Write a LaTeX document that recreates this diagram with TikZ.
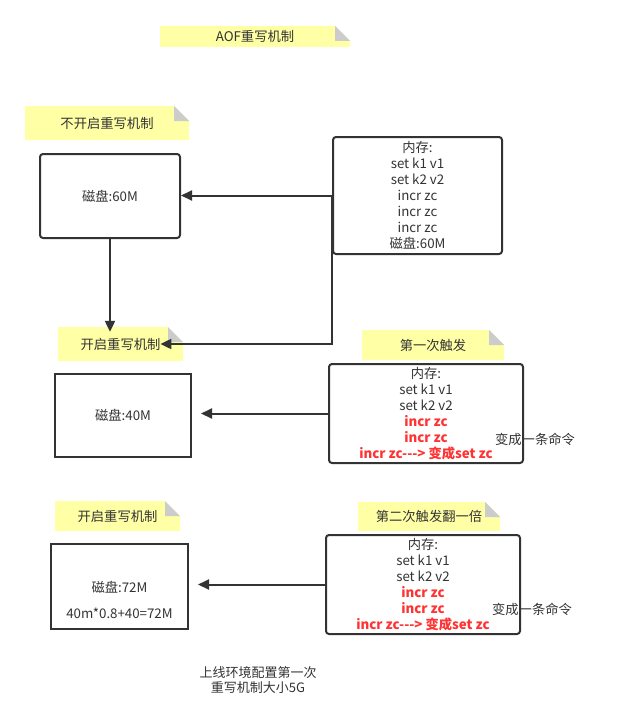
\documentclass[tikz,border=0pt]{standalone}
\usepackage{fontspec}
\setmainfont{Noto Sans CJK SC}
\usetikzlibrary{arrows.meta}
\definecolor{notey}{HTML}{FFFFA6}
\definecolor{foldc}{HTML}{CCCCCC}
\definecolor{ink}{HTML}{333333}
\definecolor{redt}{HTML}{FF3333}
\newcommand\mynote[6]{%
  \fill[notey] (#2,#3) -- ({#4-15},#3) -- (#4,{#3+15}) -- (#4,#5) -- (#2,#5) -- cycle;
  \fill[foldc] ({#4-15},#3) -- ({#4-15},{#3+15}) -- (#4,{#3+15}) -- cycle;
  \node[txt] (#1) at ({(#2+#4)/2},{(#3+#5)/2}) {#6};
}
\newcommand\redline[1]{{\bfseries\color{redt}#1}}
\begin{document}
\begin{tikzpicture}[x=1pt,y=-1pt,
  txt/.style={inner sep=0pt,outer sep=0pt,text=ink,font=\fontsize{13.3}{16}\selectfont,align=center},
  rbox/.style={draw=ink,line width=2pt,rounded corners=3pt,fill=white,inner sep=0pt,text=ink,font=\fontsize{13.3}{16}\selectfont,align=center},
  sbox/.style={draw=ink,line width=2pt,fill=white,inner sep=0pt,text=ink,font=\fontsize{13.3}{16}\selectfont,align=center},
  conn/.style={draw=ink,line width=2pt,-{Triangle[length=11pt,width=10pt]}}]
\useasboundingbox (0,0) rectangle (619,725);

\mynote{nAOF}{160}{26}{350}{47}{AOF重写机制}
\mynote{nOff}{25}{106}{189}{140}{不开启重写机制}
\mynote{nOn1}{58}{327}{183}{361}{开启重写机制}
\mynote{nT1}{362}{330}{504}{360}{第一次触发}
\mynote{nOn2}{55}{501}{180}{531}{开启重写机制}
\mynote{nT2}{358}{502}{500}{531}{第二次触发翻一倍}

\node[rbox,minimum width=140pt,minimum height=84pt] (box1) at (110,196) {磁盘:60M};
\node[rbox,minimum width=169pt,minimum height=117pt] (mem1) at (417.5,195.5)
  {内存:\\set k1 v1\\set k2 v2\\incr zc\\incr zc\\incr zc\\磁盘:60M};

\node[sbox,minimum width=136pt,minimum height=83pt] (box2) at (123,415.5) {磁盘:40M};
\node[rbox,minimum width=194pt,minimum height=99pt] (mem2) at (426,413.5)
  {内存:\\set k1 v1\\set k2 v2\\\redline{incr zc}\\\redline{incr zc}\\\redline{incr zc-{}-{}-> 变成set zc}};

\node[sbox,minimum width=137pt,minimum height=85pt] (box3) at (119.5,586.5) {};
\node[txt] (box3t) at (119.5,600) {磁盘:72M\\[10pt]40m*0.8+40=72M};
\node[rbox,minimum width=194pt,minimum height=99pt] (mem3) at (423,584.5)
  {内存:\\set k1 v1\\set k2 v2\\\redline{incr zc}\\\redline{incr zc}\\\redline{incr zc-{}-{}-> 变成set zc}};

\node[txt] (c1) at (535,439) {变成一条命令};
\node[txt] (c2) at (532,609) {变成一条命令};
\node[txt,font=\fontsize{13}{15}\selectfont] (bottom) at (258,680.5) {上线环境配置第一次\\重写机制大小5G};

\draw[conn] (mem1.west) -- (mem1.west -| box1.east);
\draw[conn,shorten >=6pt] (box1.south) -- (box1.south |- nOn1.north);
\draw[conn] (mem1.west) -- (mem1.west |- nOn1.east) -- (nOn1.east);
\draw[conn,shorten >=9pt] (mem2.west) -- (mem2.west -| box2.east);
\draw[conn,shorten >=9pt] (mem3.west) -- (mem3.west -| box3.east);
\end{tikzpicture}
\end{document}
